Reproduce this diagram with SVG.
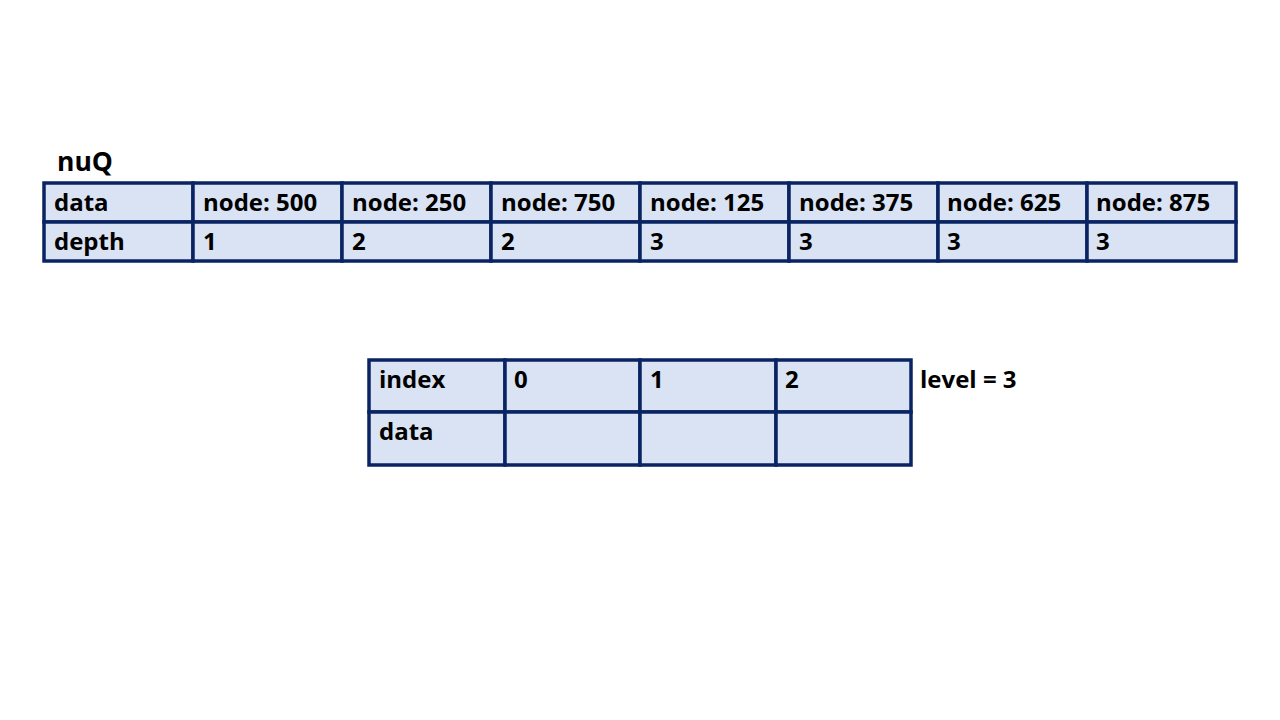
<svg xmlns="http://www.w3.org/2000/svg" width="1280" height="720" viewBox="0 0 1280 720">
<style>
.c{fill:#dae3f3;stroke:#0a2463;stroke-width:3.5}
.t{font-family:"Open Sans","Liberation Sans",sans-serif;font-weight:bold;font-size:24px;fill:#000}
</style>
<rect width="1280" height="720" fill="#fff"/>
<text class="t" x="57" y="171" style="font-size:26.5px">nuQ</text>
<g id="nuQ">
<rect class="c" x="44" y="183" width="149" height="39"/>
<rect class="c" x="193" y="183" width="149" height="39"/>
<rect class="c" x="342" y="183" width="149" height="39"/>
<rect class="c" x="491" y="183" width="149" height="39"/>
<rect class="c" x="640" y="183" width="149" height="39"/>
<rect class="c" x="789" y="183" width="149" height="39"/>
<rect class="c" x="938" y="183" width="149" height="39"/>
<rect class="c" x="1087" y="183" width="149" height="39"/>
<rect class="c" x="44" y="222" width="149" height="39"/>
<rect class="c" x="193" y="222" width="149" height="39"/>
<rect class="c" x="342" y="222" width="149" height="39"/>
<rect class="c" x="491" y="222" width="149" height="39"/>
<rect class="c" x="640" y="222" width="149" height="39"/>
<rect class="c" x="789" y="222" width="149" height="39"/>
<rect class="c" x="938" y="222" width="149" height="39"/>
<rect class="c" x="1087" y="222" width="149" height="39"/>
<text class="t" x="54" y="211">data</text>
<text class="t" x="203" y="211">node: 500</text>
<text class="t" x="352" y="211">node: 250</text>
<text class="t" x="501" y="211">node: 750</text>
<text class="t" x="650" y="211">node: 125</text>
<text class="t" x="799" y="211">node: 375</text>
<text class="t" x="947" y="211">node: 625</text>
<text class="t" x="1096" y="211">node: 875</text>
<text class="t" x="54" y="250">depth</text>
<text class="t" x="203" y="250">1</text>
<text class="t" x="352" y="250">2</text>
<text class="t" x="501" y="250">2</text>
<text class="t" x="650" y="250">3</text>
<text class="t" x="799" y="250">3</text>
<text class="t" x="947" y="250">3</text>
<text class="t" x="1096" y="250">3</text>
</g>
<g id="levelTable">
<rect class="c" x="369" y="360" width="136" height="52"/>
<rect class="c" x="505" y="360" width="135" height="52"/>
<rect class="c" x="640" y="360" width="136" height="52"/>
<rect class="c" x="776" y="360" width="135" height="52"/>
<rect class="c" x="369" y="412" width="136" height="53"/>
<rect class="c" x="505" y="412" width="135" height="53"/>
<rect class="c" x="640" y="412" width="136" height="53"/>
<rect class="c" x="776" y="412" width="135" height="53"/>
<text class="t" x="379" y="388">index</text>
<text class="t" x="514" y="388">0</text>
<text class="t" x="650" y="388">1</text>
<text class="t" x="785" y="388">2</text>
<text class="t" x="379" y="440">data</text>
</g>
<text class="t" x="920" y="388">level = 3</text>
<g id="connectors"/>
</svg>
